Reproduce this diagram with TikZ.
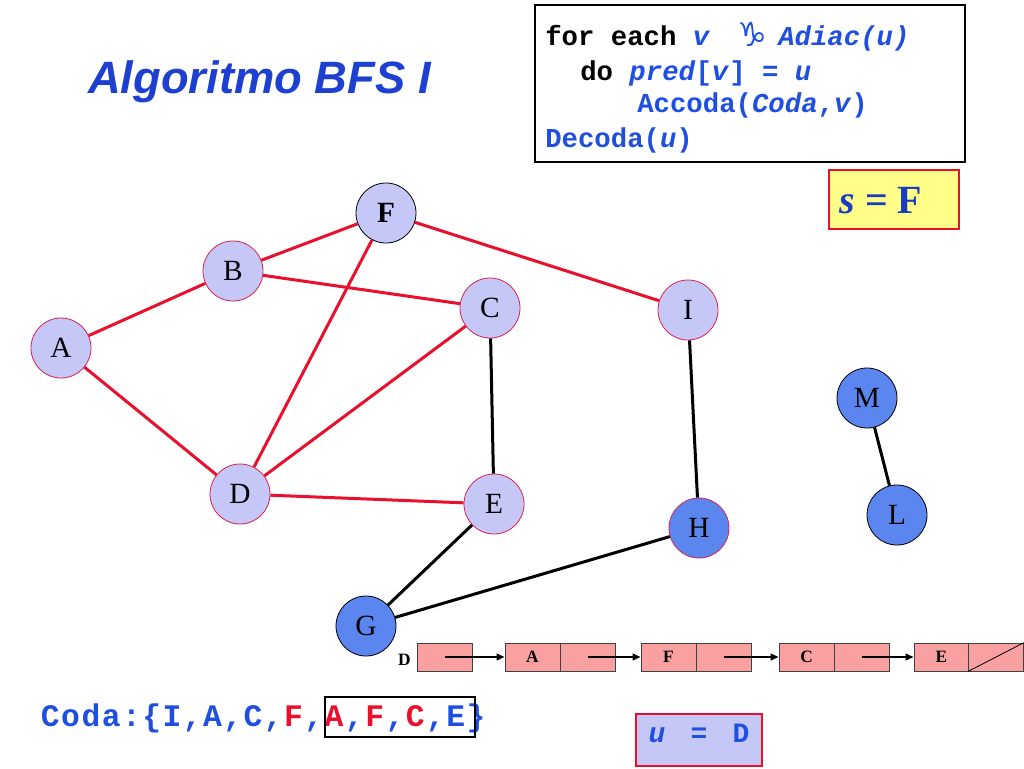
\documentclass[tikz,border=0pt]{standalone}
\usepackage{fontspec}
\setmainfont{Liberation Serif}
\newfontfamily\arialf{Liberation Sans}
\newfontfamily\courf{Liberation Mono}
\newfontfamily\djf{DejaVu Sans}
\usetikzlibrary{arrows.meta}
\definecolor{lav}{HTML}{C5C8F7}
\definecolor{nblue}{HTML}{5B86F0}
\definecolor{ered}{HTML}{E8102C}
\definecolor{cblue}{HTML}{1F4FE0}
\definecolor{tblue}{HTML}{1E40D0}
\definecolor{sblue}{HTML}{1A3CC0}
\definecolor{salmon}{HTML}{F9A0A0}
\definecolor{syellow}{HTML}{FFFF88}
\definecolor{nborder}{HTML}{D82050}
\newcommand\cch[1]{\makebox[15.2pt]{#1}}
\newcommand\ucch[1]{\makebox[15.75pt]{#1}}
\begin{document}
\begin{tikzpicture}[x=0.75pt,y=-0.75pt,
 vnode/.style={circle, minimum size=45pt, inner sep=0pt, fill=lav, draw=nborder, line width=0.6pt, font=\fontsize{22}{26}\selectfont},
 dnode/.style={vnode, fill=nblue},
 redge/.style={draw=ered, line width=2.25pt},
 bedge/.style={draw=black, line width=2.25pt},
 cell/.style={draw=black!75, fill=salmon, minimum width=41.25pt, minimum height=21pt, inner sep=0pt, line width=0.6pt, font=\fontsize{13}{15}\selectfont\bfseries},
 larrow/.style={-{Triangle[length=6pt,width=5pt]}, line width=1.5pt},
 codetxt/.style={anchor=base west, inner sep=0pt, font=\courf\bfseries\fontsize{20.5}{24}\selectfont, text=cblue}]
\useasboundingbox[fill=white] (0,0) rectangle (1024,768);

% title
\node[anchor=base west, inner sep=0pt, text=tblue, font=\arialf\bfseries\itshape\fontsize{34}{40}\selectfont] (title) at (88,93) {Algoritmo BFS I};

% code box
\draw[line width=1.5pt] (535,5) rectangle (965,162);
\node[codetxt] (c1a) at (545,45) {\textcolor{black}{for each }\textit{v}};
\node[anchor=base west, inner sep=0pt, text=cblue, font=\djf\fontsize{25}{28}\selectfont] (c1b) at (737,46) {♑};
\node[codetxt] (c1c) at (778,45) {\textit{Adiac(u)}};
\node[codetxt] (c2) at (580,80) {\textcolor{black}{do }\textit{pred}[\textit{v}] = \textit{u}};
\node[codetxt] (c3) at (637,112) {Accoda(\textit{Coda},\textit{v})};
\node[codetxt] (c4) at (545,147) {Decoda(\textit{u})};

% s = F box
\draw[draw=ered, fill=syellow, line width=1pt] (829,170) rectangle (959,229);
\node[text=sblue, font=\fontsize{30}{34}\selectfont\bfseries] (sF) at (881,201) {\textit{s} = F};

% graph nodes
\node[vnode] (A) at (61,348) {A};
\node[vnode] (B) at (233,271) {B};
\node[vnode, draw=black] (F) at (386,213) {\textbf{F}};
\node[vnode] (C) at (490,308) {C};
\node[vnode] (I) at (688,310) {I};
\node[vnode] (D) at (240,494) {D};
\node[vnode] (E) at (494,504) {E};
\node[dnode] (H) at (699,528) {H};
\node[dnode, draw=black] (G) at (366,626) {G};
\node[dnode, draw=black] (M) at (867,398) {M};
\node[dnode, draw=black] (L) at (897,515) {L};

% edges
\draw[redge] (A) -- (B);
\draw[redge] (A) -- (D);
\draw[redge] (B) -- (F);
\draw[redge] (B) -- (C);
\draw[redge] (F) -- (D);
\draw[redge] (F) -- (I);
\draw[redge] (C) -- (D);
\draw[redge] (D) -- (E);
\draw[bedge] (C) -- (E);
\draw[bedge] (I) -- (H);
\draw[bedge] (E) -- (G);
\draw[bedge] (G) -- (H);
\draw[bedge] (M) -- (L);

% linked list
\node[anchor=east, inner sep=0pt, font=\fontsize{13}{15}\selectfont\bfseries] (dl) at (411,660) {D};
\node[cell] (l0) at (444.5,657) {};
\node[cell] (a1) at (532.5,657) {A};
\node[cell] (a2) at (587.5,657) {};
\node[cell] (f1) at (668.5,657) {F};
\node[cell] (f2) at (723.5,657) {};
\node[cell] (k1) at (806.5,657) {C};
\node[cell] (k2) at (861.5,657) {};
\node[cell] (e1) at (941.5,657) {E};
\node[cell] (e2) at (996,657) {};
\draw[line width=0.6pt] (e2.south west) -- (e2.north east);
\draw[larrow] (l0.center) -- (a1.west);
\draw[larrow] (a2.center) -- (f1.west);
\draw[larrow] (f2.center) -- (k1.west);
\draw[larrow] (k2.center) -- (e1.west);

% Coda line
\node[anchor=base west, inner sep=0pt, text=cblue, font=\courf\bfseries\fontsize{23.5}{26}\selectfont] (coda) at (40,726)
 {\cch{C}\cch{o}\cch{d}\cch{a}\cch{:}\cch{\{}\cch{I}\cch{,}\cch{A}\cch{,}\cch{C}\cch{,}\cch{\textcolor{ered}{F}}\cch{,}\cch{\textcolor{ered}{A}}\cch{,}\cch{\textcolor{ered}{F}}\cch{,}\cch{\textcolor{ered}{C}}\cch{,}\cch{E}\cch{\}}};
\draw[line width=1.5pt] (325,697) rectangle (475,737);

% u = D box
\draw[draw=ered, fill=lav, line width=1pt] (636,714) rectangle (762,766);
\node[anchor=base, inner sep=0pt, text=cblue, font=\courf\bfseries\fontsize{21}{24}\selectfont] (uD) at (699,742)
 {\ucch{\textit{u}}\ucch{ }\ucch{=}\ucch{ }\ucch{D}};
\end{tikzpicture}
\end{document}
